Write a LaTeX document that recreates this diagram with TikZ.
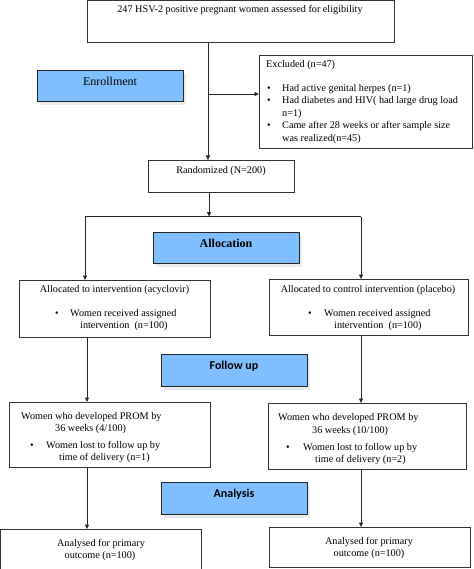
\documentclass[tikz,border=0pt]{standalone}
\usepackage{fontspec}
\setmainfont{Liberation Serif}
\newfontfamily\stagesans{Carlito}
\usetikzlibrary{arrows.meta}
\definecolor{stageblue}{RGB}{128,191,255}
\begin{document}
\begin{tikzpicture}[x=1pt,y=-1pt,
  box/.style={draw=black!80,line width=0.8pt,fill=white,inner sep=0pt,anchor=north west},
  stage/.style={draw=black!85,line width=1.2pt,fill=stageblue,inner sep=0pt,anchor=north west},
  shadowbox/.style={fill=black!8,draw=none},
  txt/.style={inner sep=0pt,font=\fontsize{10.2}{12}\selectfont},
  stxt/.style={inner sep=0pt,font=\fontsize{12}{14}\selectfont},
  ssans/.style={inner sep=0pt,font=\stagesans\bfseries\fontsize{12}{14}\selectfont},
  arr/.style={line width=0.8pt,draw=black!85,-{Triangle[length=4.5pt,width=4pt]}},
  ln/.style={line width=0.8pt,draw=black!85}]
\fill[white] (0,0) rectangle (473,569);
\useasboundingbox (0,0) rectangle (473,569);

% soft shadows under the stage boxes
\fill[shadowbox] (40,74) rectangle (186,105);
\fill[shadowbox] (156,236) rectangle (302,267);
\fill[shadowbox] (164,358) rectangle (310,390);
\fill[shadowbox] (164,486) rectangle (310,518);

% boxes
\node[box,minimum width=307,minimum height=42] (top) at (87,0) {};
\node[box,minimum width=213,minimum height=93] (excl) at (259,55) {};
\node[stage,minimum width=146,minimum height=31] (enroll) at (37,70) {};
\node[box,minimum width=146,minimum height=32] (rand) at (148,160) {};
\node[stage,minimum width=146,minimum height=31] (alloc) at (153,232) {};
\node[box,minimum width=191,minimum height=57] (lalloc) at (19,280) {};
\node[box,minimum width=199,minimum height=56] (ralloc) at (269,279) {};
\node[stage,minimum width=146,minimum height=32] (follow) at (161,354) {};
\node[box,minimum width=201,minimum height=65] (lprom) at (9,402) {};
\node[box,minimum width=198,minimum height=66] (rprom) at (268,403) {};
\node[stage,minimum width=146,minimum height=32] (analysis) at (161,482) {};
\node[box,minimum width=201,minimum height=40] (lfin) at (0,529) {};
\node[box,minimum width=201,minimum height=40] (rfin) at (269,527) {};

% texts
\node[txt] (t1) at (240,10) {247 HSV-2 positive pregnant women assessed for eligibility};
\node[txt,anchor=west] (e0) at (266,65) {Excluded (n=47)};
\node[txt] (eb1) at (269,89) {\textbullet};
\node[txt,anchor=west] (e1) at (282,89) {Had active genital herpes (n=1)};
\node[txt] (eb2) at (269,101) {\textbullet};
\node[txt,anchor=west] (e2) at (282,101) {Had diabetes and HIV( had large drug load};
\node[txt,anchor=west] (e3) at (282,114) {n=1)};
\node[txt] (eb3) at (269,126) {\textbullet};
\node[txt,anchor=west] (e4) at (282,126) {Came after 28 weeks or after sample size};
\node[txt,anchor=west] (e5) at (282,139) {was realized(n=45)};
\node[stxt] (enT) at (110,81) {Enrollment};
\node[txt] (rT) at (221,171) {Randomized (N=200)};
\node[stxt,font=\bfseries\fontsize{12}{14}\selectfont] (alT) at (226,243) {Allocation};
\node[txt] (la1) at (114.5,290) {Allocated to intervention (acyclovir)};
\node[txt] (lab) at (57,314) {\textbullet};
\node[txt,anchor=west] (la2) at (70,314) {Women received assigned};
\node[txt,anchor=west] (la3) at (80,326) {intervention\ \ (n=100)};
\node[txt] (ra1) at (368,290) {Allocated to control intervention (placebo)};
\node[txt] (rab) at (310,314) {\textbullet};
\node[txt,anchor=west] (ra2) at (324,314) {Women received assigned};
\node[txt,anchor=west] (ra3) at (334,326) {intervention\ \ (n=100)};
\node[ssans] (fT) at (234,366) {Follow up};
\node[txt,anchor=west] (lp1) at (21,417) {Women who developed PROM by};
\node[txt,anchor=west] (lp2) at (55,429) {36 weeks (4/100)};
\node[txt] (lpb) at (32,446) {\textbullet};
\node[txt,anchor=west] (lp3) at (46,446) {Women lost to follow up by};
\node[txt,anchor=west] (lp4) at (59,458) {time of delivery (n=1)};
\node[txt,anchor=west] (rp1) at (278,418) {Women who developed PROM by};
\node[txt,anchor=west] (rp2) at (312,431) {36 weeks (10/100)};
\node[txt] (rpb) at (288,448) {\textbullet};
\node[txt,anchor=west] (rp3) at (303,448) {Women lost to follow up by};
\node[txt,anchor=west] (rp4) at (315,460) {time of delivery (n=2)};
\node[ssans] (aT) at (234,494) {Analysis};
\node[txt] (lf1) at (101,544) {Analysed for primary};
\node[txt] (lf2) at (100,556) {outcome (n=100)};
\node[txt] (rf1) at (369,542) {Analysed for primary};
\node[txt] (rf2) at (369,554) {outcome (n=100)};

% connector coordinates
\coordinate (vx) at (208,0);
\coordinate (ex) at (209,94);
\coordinate (sx) at (209,216.5);
\coordinate (lx) at (85,216.5);
\coordinate (rx) at (361,216.5);
\coordinate (lx2) at (87,0);
\coordinate (rx2) at (361,0);

\draw[arr] (top.south -| vx) -- (rand.north -| vx);
\draw[arr] (ex) -- (excl.west |- ex);
\draw[arr] (rand.south -| sx) -- (sx);
\draw[ln] (lx) -- (rx);
\draw[arr] (lx) -- (lalloc.north -| lx);
\draw[arr] (rx) -- (ralloc.north -| rx);
\draw[arr] (lalloc.south -| lx2) -- (lprom.north -| lx2);
\draw[arr] (ralloc.south -| rx2) -- (rprom.north -| rx2);
\draw[arr] (lprom.south -| lx2) -- (lfin.north -| lx2);
\draw[arr] (rprom.south -| rx2) -- (rfin.north -| rx2);
\end{tikzpicture}
\end{document}
